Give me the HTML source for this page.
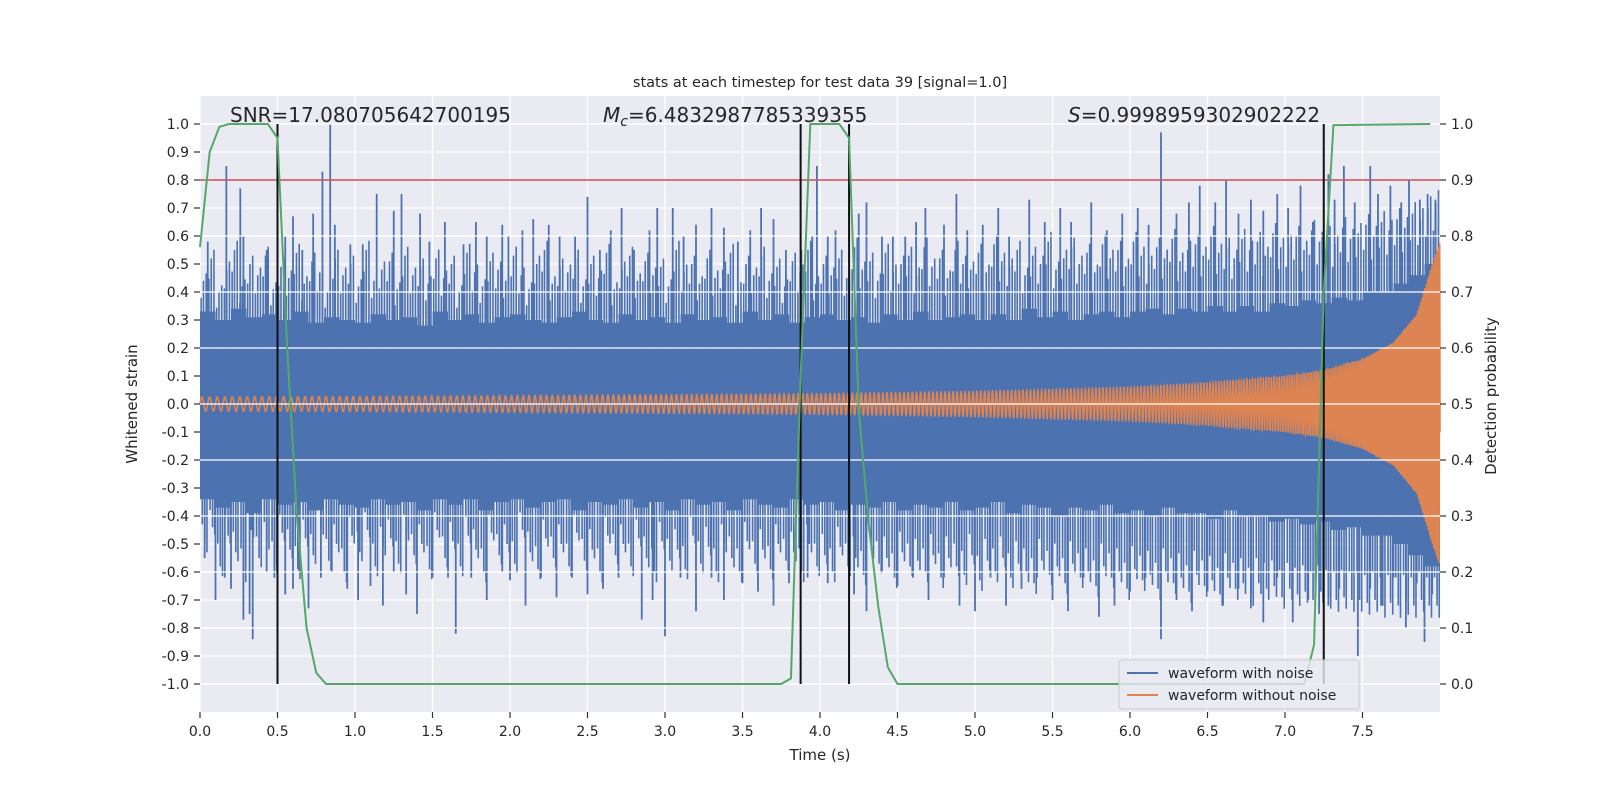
<!DOCTYPE html>
<html><head><meta charset="utf-8"><style>
html,body{margin:0;padding:0;background:#fff;}
svg{display:block;font-family:"DejaVu Sans","Liberation Sans",sans-serif;}
</style></head><body>
<svg id="chart" width="1600" height="800" viewBox="0 0 1600 800" xmlns="http://www.w3.org/2000/svg">
<rect x="200" y="96" width="1240" height="616" fill="#EAEAF2"/>
<g id="gridL"></g>
<g id="blue"></g>
<g id="orange"></g>
<g id="gridR"></g>
<line id="thr" x1="200" x2="1440" y1="180" y2="180" stroke="#C44E52" stroke-width="1.6"/>
<g id="vlines"></g>
<g id="green"></g>
<g id="axes"></g>
<text x="820" y="87" font-size="14.5" text-anchor="middle" fill="#262626">stats at each timestep for test data 39 [signal=1.0]</text>
<text x="230" y="122" font-size="20" fill="#262626">SNR=17.080705642700195</text>
<text x="603" y="122" font-size="20" fill="#262626"><tspan font-style="italic">M</tspan><tspan font-style="italic" font-size="14" dy="4">c</tspan><tspan dy="-4">=6.4832987785339355</tspan></text>
<text x="1068" y="122" font-size="20" fill="#262626"><tspan font-style="italic">S</tspan>=0.9998959302902222</text>
<text x="820" y="760" font-size="15" text-anchor="middle" fill="#262626">Time (s)</text>
<text x="0" y="0" font-size="15" text-anchor="middle" fill="#262626" transform="translate(137,404) rotate(-90)">Whitened strain</text>
<text x="0" y="0" font-size="15" text-anchor="middle" fill="#262626" transform="translate(1496,396) rotate(-90)">Detection probability</text>
<g>
<rect x="1119" y="660" width="240" height="49" rx="3" fill="#EAEAF2" fill-opacity="0.8" stroke="#cccccc" stroke-width="1"/>
<line x1="1127" x2="1158" y1="673" y2="673" stroke="#4C72B0" stroke-width="2"/>
<text x="1168" y="678" font-size="14" fill="#262626">waveform with noise</text>
<line x1="1127" x2="1158" y1="695" y2="695" stroke="#DD8452" stroke-width="2"/>
<text x="1168" y="700" font-size="14" fill="#262626">waveform without noise</text>
</g>
</svg>
<script>
// ---- data ----
const coreHi = [0.33,0.3,0.34,0.31,0.32,0.3,0.33,0.29,0.31,0.3,0.29,0.32,0.3,0.31,0.28,0.33,0.3,0.32,0.29,0.31,0.32,0.3,0.29,0.31,0.33,0.3,0.29,0.32,0.3,0.31,0.29,0.32,0.3,0.31,0.29,0.33,0.3,0.32,0.29,0.31,0.32,0.3,0.31,0.29,0.32,0.3,0.33,0.3,0.31,0.32,0.3,0.32,0.3,0.34,0.31,0.33,0.3,0.32,0.33,0.31,0.33,0.34,0.32,0.34,0.33,0.35,0.33,0.35,0.33,0.36,0.35,0.37,0.36,0.38,0.37,0.4,0.4,0.43,0.46,0.5];
const coreLo = [-0.34,-0.37,-0.35,-0.39,-0.34,-0.36,-0.35,-0.38,-0.34,-0.36,-0.37,-0.34,-0.36,-0.35,-0.38,-0.34,-0.36,-0.34,-0.38,-0.35,-0.34,-0.37,-0.35,-0.34,-0.38,-0.35,-0.36,-0.34,-0.37,-0.35,-0.38,-0.34,-0.36,-0.35,-0.38,-0.34,-0.36,-0.37,-0.34,-0.36,-0.35,-0.38,-0.36,-0.37,-0.35,-0.38,-0.36,-0.37,-0.35,-0.38,-0.37,-0.35,-0.39,-0.36,-0.37,-0.4,-0.37,-0.38,-0.36,-0.39,-0.38,-0.4,-0.37,-0.39,-0.39,-0.41,-0.38,-0.4,-0.4,-0.42,-0.41,-0.43,-0.42,-0.45,-0.44,-0.47,-0.47,-0.5,-0.54,-0.58];
const midUp = [0.44,0.52,0.4,0.48,0.55,0.42,0.5,0.46,0.53,0.41,0.49,0.45,0.54,0.43,0.51,0.47,0.4,0.52,0.46,0.5,0.42,0.55,0.44,0.48,0.51,0.41,0.53,0.46,0.49,0.43,0.52,0.45,0.5,0.4,0.54,0.47,0.42,0.51,0.48,0.44,0.53,0.46,0.41,0.5,0.55,0.43,0.49,0.47,0.52,0.42,0.5,0.45,0.54,0.41,0.48,0.53,0.44,0.51,0.46,0.49,0.42,0.55,0.47,0.5,0.43,0.52,0.45,0.48,0.54,0.41,0.5,0.46,0.53,0.44,0.49,0.42,0.51,0.47,0.55,0.43,0.5,0.46,0.52,0.45,0.56,0.48,0.51,0.44,0.54,0.47,0.5,0.53,0.46,0.56,0.49,0.52,0.45,0.55,0.5,0.48,0.54,0.47,0.57,0.51,0.49,0.55,0.46,0.53,0.5,0.58,0.48,0.52,0.56,0.5,0.54,0.47,0.57,0.52,0.55,0.49,0.58,0.53,0.5,0.56,0.52,0.59,0.51,0.55,0.57,0.53,0.6,0.54,0.56,0.52,0.59,0.55,0.58,0.53,0.61,0.56,0.57,0.6,0.55,0.62,0.58,0.6,0.57,0.63,0.59,0.61,0.64,0.6,0.65,0.62,0.66,0.63,0.68,0.66,0.7,0.72];
const midDn = [-0.5,-0.44,-0.58,-0.47,-0.53,-0.6,-0.45,-0.55,-0.49,-0.57,-0.46,-0.52,-0.59,-0.48,-0.54,-0.44,-0.56,-0.5,-0.6,-0.47,-0.53,-0.45,-0.58,-0.51,-0.48,-0.57,-0.46,-0.54,-0.5,-0.59,-0.45,-0.55,-0.49,-0.58,-0.47,-0.52,-0.6,-0.46,-0.54,-0.5,-0.57,-0.45,-0.53,-0.59,-0.48,-0.55,-0.5,-0.58,-0.46,-0.56,-0.52,-0.6,-0.47,-0.54,-0.5,-0.58,-0.48,-0.55,-0.6,-0.49,-0.56,-0.52,-0.59,-0.47,-0.57,-0.51,-0.6,-0.5,-0.55,-0.6,-0.49,-0.57,-0.52,-0.59,-0.5,-0.56,-0.53,-0.6,-0.5,-0.58,-0.54,-0.6,-0.51,-0.58,-0.55,-0.61,-0.52,-0.57,-0.55,-0.62,-0.53,-0.58,-0.56,-0.6,-0.54,-0.62,-0.55,-0.58,-0.61,-0.54,-0.63,-0.56,-0.6,-0.55,-0.62,-0.57,-0.6,-0.64,-0.56,-0.61,-0.58,-0.64,-0.57,-0.62,-0.6,-0.65,-0.58,-0.62,-0.6,-0.66,-0.59,-0.63,-0.61,-0.66,-0.6,-0.64,-0.62,-0.67,-0.61,-0.65,-0.63,-0.68,-0.62,-0.66,-0.64,-0.68,-0.64,-0.66,-0.65,-0.69,-0.66,-0.68,-0.67,-0.7,-0.67,-0.69,-0.7,-0.69,-0.7,-0.7,-0.71,-0.7,-0.72,-0.71,-0.72,-0.71,-0.72,-0.7,-0.72,-0.72];
const upT = [0.05,0.17,0.26,0.28,0.43,0.55,0.6,0.66,0.73,0.79,0.84,0.87,0.97,1.05,1.14,1.25,1.3,1.42,1.48,1.58,1.7,1.78,1.85,1.95,1.99,2.08,2.15,2.25,2.32,2.42,2.5,2.58,2.65,2.72,2.8,2.9,2.95,3.05,3.12,3.2,3.3,3.38,3.47,3.55,3.62,3.7,3.78,3.88,3.95,3.98,4.05,4.1,4.25,4.3,4.4,4.47,4.55,4.62,4.68,4.8,4.88,4.95,5.05,5.15,5.22,5.35,5.45,5.55,5.62,5.75,5.85,5.95,6.05,6.12,6.2,6.3,6.38,6.45,6.55,6.62,6.7,6.78,6.86,6.95,7.02,7.1,7.18,7.28,7.32,7.38,7.45,7.55,7.6,7.68,7.75,7.8,7.87,7.92,7.97];
const upV = [0.58,0.85,0.77,0.6,0.55,0.6,0.67,0.55,0.68,0.83,1.0,0.64,0.57,0.57,0.75,0.69,0.75,0.68,0.58,0.65,0.57,0.65,0.6,0.64,0.6,0.62,0.66,0.64,0.6,0.6,0.74,0.55,0.62,0.7,0.55,0.62,0.7,0.7,0.6,0.64,0.7,0.63,0.58,0.62,0.7,0.66,0.55,0.55,0.6,0.85,0.6,0.62,0.68,0.72,0.6,0.6,0.6,0.65,0.7,0.64,0.75,0.62,0.64,0.7,0.6,0.73,0.65,0.7,0.65,0.72,0.62,0.68,0.7,0.64,0.97,0.68,0.72,0.78,0.72,0.8,0.68,0.73,0.69,0.75,0.7,0.78,0.65,0.82,0.73,0.85,0.72,0.85,0.75,0.78,0.72,0.8,0.73,0.75,0.73];
const dnT = [0.03,0.1,0.16,0.2,0.28,0.32,0.34,0.43,0.48,0.55,0.6,0.64,0.7,0.78,0.85,0.95,1.02,1.1,1.18,1.25,1.33,1.4,1.5,1.6,1.65,1.75,1.85,1.95,2.0,2.1,2.2,2.3,2.4,2.5,2.6,2.7,2.85,2.92,3.0,3.1,3.2,3.3,3.38,3.5,3.6,3.7,3.8,3.92,4.05,4.22,4.3,4.4,4.5,4.6,4.7,4.8,4.9,5.0,5.1,5.2,5.3,5.4,5.5,5.6,5.7,5.8,5.9,6.0,6.1,6.2,6.3,6.4,6.5,6.6,6.7,6.78,6.86,6.95,7.05,7.15,7.22,7.28,7.35,7.47,7.55,7.62,7.7,7.78,7.85,7.9,7.95];
const dnV = [-0.55,-0.7,-0.62,-0.66,-0.77,-0.75,-0.84,-0.6,-0.62,-0.68,-0.66,-0.6,-0.73,-0.62,-0.6,-0.66,-0.7,-0.65,-0.72,-0.6,-0.68,-0.75,-0.62,-0.62,-0.82,-0.62,-0.7,-0.6,-0.63,-0.72,-0.62,-0.69,-0.62,-0.68,-0.66,-0.62,-0.77,-0.7,-0.83,-0.62,-0.74,-0.62,-0.7,-0.64,-0.67,-0.72,-0.64,-0.62,-0.64,-0.68,-0.74,-0.6,-0.65,-0.62,-0.7,-0.62,-0.72,-0.74,-0.62,-0.72,-0.66,-0.62,-0.7,-0.74,-0.62,-0.76,-0.72,-0.67,-0.62,-0.84,-0.7,-0.74,-0.67,-0.72,-0.66,-0.73,-0.78,-0.62,-0.78,-0.7,-0.75,-0.72,-0.66,-0.9,-0.66,-0.72,-0.62,-0.8,-0.64,-0.85,-0.68];
const ampT = [0,1,2,3,4,5,6,6.5,7,7.25,7.5,7.7,7.85,7.95,8.0];
const ampV = [0.025,0.027,0.03,0.033,0.037,0.045,0.06,0.075,0.1,0.12,0.16,0.22,0.32,0.5,0.58];
const freqT = [0,2,4,6,7,7.5,8];
const freqV = [20,26,34,45,60,80,120];
const probT = [0,0.0625,0.125,0.1875,0.25,0.3125,0.375,0.4375,0.5,0.5625,0.625,0.6875,0.75,0.8125,3.75,3.8125,3.875,3.9375,4.0,4.0625,4.125,4.1875,4.25,4.3125,4.375,4.4375,4.5,7.125,7.1875,7.25,7.3125,7.9375];
const probV = [0.78,0.95,0.995,1.0,1.0,1.0,1.0,1.0,0.975,0.6,0.3,0.1,0.02,0.0,0.0,0.01,0.55,1.0,1.0,1.0,1.0,0.975,0.49,0.29,0.14,0.03,0.0,0.0,0.07,0.7,0.998,1.0];
const markT = [0.5,3.875,4.1875,7.25];
const threshold = 0.9;
const xTicks = ["0.0","0.5","1.0","1.5","2.0","2.5","3.0","3.5","4.0","4.5","5.0","5.5","6.0","6.5","7.0","7.5"];
const yLTicks = ["-1.0","-0.9","-0.8","-0.7","-0.6","-0.5","-0.4","-0.3","-0.2","-0.1","0.0","0.1","0.2","0.3","0.4","0.5","0.6","0.7","0.8","0.9","1.0"];
const yRTicks = ["0.0","0.1","0.2","0.3","0.4","0.5","0.6","0.7","0.8","0.9","1.0"];

// ---- scales ----
const X = t => 200 + t*155;
const YL = v => 404 - v*280;
const YR = p => 684 - p*560;
const NS = "http://www.w3.org/2000/svg";
function mk(tag, parent, attrs){const e=document.createElementNS(NS,tag);for(const k in attrs)e.setAttribute(k,attrs[k]);parent.appendChild(e);return e;}
function interp(ts, vs, t){if(t<=ts[0])return vs[0];for(let i=1;i<ts.length;i++){if(t<=ts[i]){const f=(t-ts[i-1])/(ts[i]-ts[i-1]);return vs[i-1]+f*(vs[i]-vs[i-1]);}}return vs[vs.length-1];}

const gL=document.getElementById('gridL'), gR=document.getElementById('gridR'), ax=document.getElementById('axes');
xTicks.forEach(s=>{const t=parseFloat(s);
  const l=mk('line',gL,{x1:X(t),x2:X(t),y1:96,y2:712,stroke:'#fff','stroke-width':1.3});
  
  
  const tk=mk('line',ax,{x1:X(t),x2:X(t),y1:712,y2:718,stroke:'#333','stroke-width':1.2});
  
  
  const tx=mk('text',ax,{x:X(t),y:736,'font-size':14,'text-anchor':'middle',fill:'#262626'});tx.textContent=s;
  
  
});
yLTicks.forEach(s=>{const v=parseFloat(s);
  const l=mk('line',gL,{x1:200,x2:1440,y1:YL(v),y2:YL(v),stroke:'#fff','stroke-width':1.3});
  
  
  const tk=mk('line',ax,{x1:194,x2:200,y1:YL(v),y2:YL(v),stroke:'#333','stroke-width':1.2});
  
  
  const tx=mk('text',ax,{x:189,y:YL(v)+5,'font-size':14,'text-anchor':'end',fill:'#262626'});tx.textContent=s;
  
  
});
yRTicks.forEach(s=>{const p=parseFloat(s);
  const l=mk('line',gR,{x1:200,x2:1440,y1:YR(p),y2:YR(p),stroke:'#fff','stroke-width':1.3});
  
  
  const tk=mk('line',ax,{x1:1440,x2:1446,y1:YR(p),y2:YR(p),stroke:'#333','stroke-width':1.2});
  
  
  const tx=mk('text',ax,{x:1451,y:YR(p)+5,'font-size':14,fill:'#262626'});tx.textContent=s;
  
  
});

// blue core
const gB=document.getElementById('blue');
let pathTop='',pathBot='';const binW=8/coreHi.length;
coreHi.forEach((v,i)=>{pathTop+=(i?'L':'M')+X(i*binW)+' '+YL(v)+' L'+X((i+1)*binW)+' '+YL(v)+' ';});
for(let i=coreLo.length-1;i>=0;i--){pathBot+='L'+X((i+1)*binW)+' '+YL(coreLo[i])+' L'+X(i*binW)+' '+YL(coreLo[i])+' ';}
const core=mk('path',gB,{d:pathTop+pathBot+'Z',fill:'#4C72B0'});


const midW=8/midUp.length;
midUp.forEach((v,i)=>{[0.15,0.45,0.8].forEach((f,j)=>{const vv=v*(j===1?1:0.86+0.1*j);
  const l=mk('line',gB,{x1:X((i+f)*midW),x2:X((i+f)*midW),y1:YL(0),y2:YL(vv),stroke:'#4C72B0','stroke-width':1.6});
  
  });});
midDn.forEach((v,i)=>{[0.3,0.62,0.9].forEach((f,j)=>{const vv=v*(j===1?1:0.86+0.1*j);
  const l=mk('line',gB,{x1:X((i+f)*midW),x2:X((i+f)*midW),y1:YL(0),y2:YL(vv),stroke:'#4C72B0','stroke-width':1.6});
  
  });});
upT.forEach((t,i)=>{const l=mk('line',gB,{x1:X(t),x2:X(t),y1:YL(0),y2:YL(upV[i]),stroke:'#4C72B0','stroke-width':1.8});
  
  });
dnT.forEach((t,i)=>{const l=mk('line',gB,{x1:X(t),x2:X(t),y1:YL(0),y2:YL(dnV[i]),stroke:'#4C72B0','stroke-width':1.8});
  
  });

// orange chirp
const gO=document.getElementById('orange');
let chirpD='',ph=0;const dt=0.0004;
for(let k=0;k*dt<=8;k++){const t=k*dt;ph+=2*Math.PI*interp(freqT,freqV,t)*dt;const a=interp(ampT,ampV,t);
  chirpD+=(k?'L':'M')+X(t).toFixed(2)+' '+YL(a*Math.sin(ph)).toFixed(2);}
const op=mk('path',gO,{d:chirpD,fill:'none',stroke:'#DD8452','stroke-width':1.6});



// threshold
const thr=document.getElementById('thr');thr.setAttribute('y1',YR(threshold));thr.setAttribute('y2',YR(threshold));

// markers
const gV=document.getElementById('vlines');
markT.forEach(t=>{const l=mk('line',gV,{x1:X(t),x2:X(t),y1:YR(0),y2:YR(1),stroke:'#111','stroke-width':2});
  
  });

// green
const gG=document.getElementById('green');
const gp=mk('polyline',gG,{points:probT.map((t,i)=>X(t)+','+YR(probV[i])).join(' '),fill:'none',stroke:'#55A868','stroke-width':2});


</script>
</body></html>
